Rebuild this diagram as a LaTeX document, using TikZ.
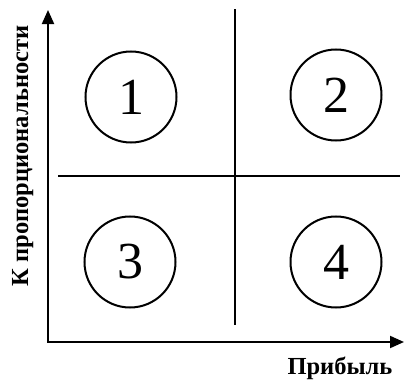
\documentclass[tikz,border=0pt]{standalone}
\usepackage{fontspec}
\setmainfont{Liberation Serif}
\usetikzlibrary{arrows.meta}
\tikzset{
  axis/.style={line width=2pt, {Triangle[length=14pt,width=12pt]}-{Triangle[length=14pt,width=12pt]}},
  divider/.style={line width=2pt},
  zone/.style={circle, draw, line width=2pt, minimum size=91pt, inner sep=0pt,
               font=\fontsize{52}{52}\selectfont},
  axislabel/.style={font=\bfseries\fontsize{24.5}{24.5}\selectfont, inner sep=0pt, anchor=base}
}
\begin{document}
\begin{tikzpicture}[x=1pt,y=-1pt]
  \useasboundingbox (0,0) rectangle (405,380);
  % axes
  \coordinate (ytop) at (48,10);
  \coordinate (origin) at (48,342);
  \coordinate (xend) at (404,342);
  \draw[axis] (ytop) -- (origin) -- (xend);
  % quadrant dividers
  \coordinate (vtop) at (235,9);
  \coordinate (vbot) at (235,325);
  \coordinate (hleft) at (58,176);
  \coordinate (hright) at (400,176);
  \draw[divider] (vtop) -- (vbot);
  \draw[divider] (hleft) -- (hright);
  % quadrant markers
  \node[zone] (q1) at (131,97) {1};
  \node[zone] (q2) at (336,95) {2};
  \node[zone] (q3) at (130,262) {3};
  \node[zone] (q4) at (336,262) {4};
  % axis labels
  \node[axislabel] (xlab) at (340,374) {Прибыль};
  \node[axislabel, rotate=90] (ylab) at (28,156) {К пропорциональности};
\end{tikzpicture}
\end{document}
